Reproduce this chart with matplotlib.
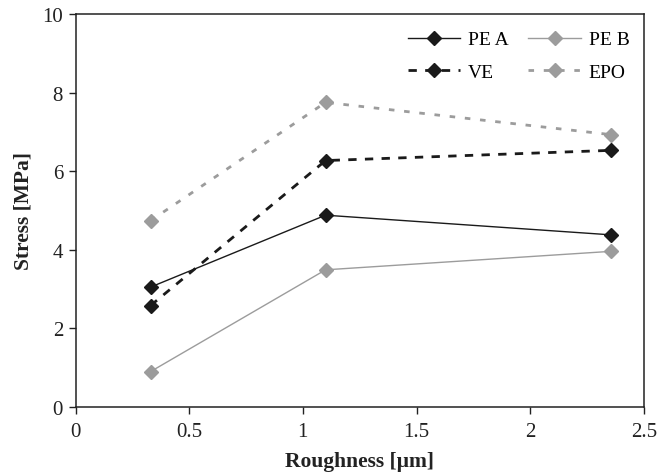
import matplotlib.pyplot as plt

plt.rcParams['font.family'] = ['Liberation Serif', 'DejaVu Serif']

roughness = [0.33, 1.1, 2.355]
pe_a = [3.05, 4.88, 4.38]
pe_b = [0.90, 3.49, 3.96]
ve = [2.58, 6.27, 6.53]
epo = [4.74, 7.75, 6.93]

negro = '#1a1a1a'
gris = '#9c9c9c'

fig = plt.figure(figsize=(6.59, 4.77), dpi=100)
ax = fig.add_axes([0.1146, 0.1447, 0.8624, 0.8239])

l1, = ax.plot(roughness, pe_a, color=negro, lw=1.0, marker='D', ms=7.5, label='PE A')
l2, = ax.plot(roughness, pe_b, color=gris, lw=1.0, marker='D', ms=7.5, label='PE B')
l3, = ax.plot(roughness, ve, color=negro, lw=2.0, ls=(0, (3, 3)), marker='D', ms=7.5, label='VE')
l4, = ax.plot(roughness, epo, color=gris, lw=2.0, ls=(0, (2, 3.5)), marker='D', ms=7.5, label='EPO')

ax.set_xlim(0, 2.5)
ax.set_ylim(0, 10)
ax.set_xticks([0, 0.5, 1, 1.5, 2, 2.5])
ax.set_xticklabels(['0', '0.5', '1', '1.5', '2', '2.5'])
ax.set_yticks([0, 2, 4, 6, 8, 10])
ax.tick_params(direction='out', length=5, width=1, labelsize=15, colors='#222222', pad=4)
ax.tick_params(axis='x', pad=6)
for s in ax.spines.values():
    s.set_linewidth(1.1)
    s.set_color('#222222')

ax.set_xlabel('Roughness [µm]', fontsize=15.5, fontweight='bold', color='#222222', labelpad=7)
ax.set_ylabel('Stress [MPa]', fontsize=15.5, fontweight='bold', color='#222222', labelpad=6)

# orden por columnas: PE A / VE a la izquierda, PE B / EPO a la derecha
ax.legend([l1, l3, l2, l4], ['PE A', 'VE', 'PE B', 'EPO'], ncol=2, frameon=False,
          loc='upper left', bbox_to_anchor=(0.585, 0.957), borderaxespad=0, borderpad=0,
          fontsize=14, handlelength=2.7, columnspacing=1.0, labelspacing=0.75,
          handletextpad=0.4)

fig.savefig('out.png', dpi=100)
